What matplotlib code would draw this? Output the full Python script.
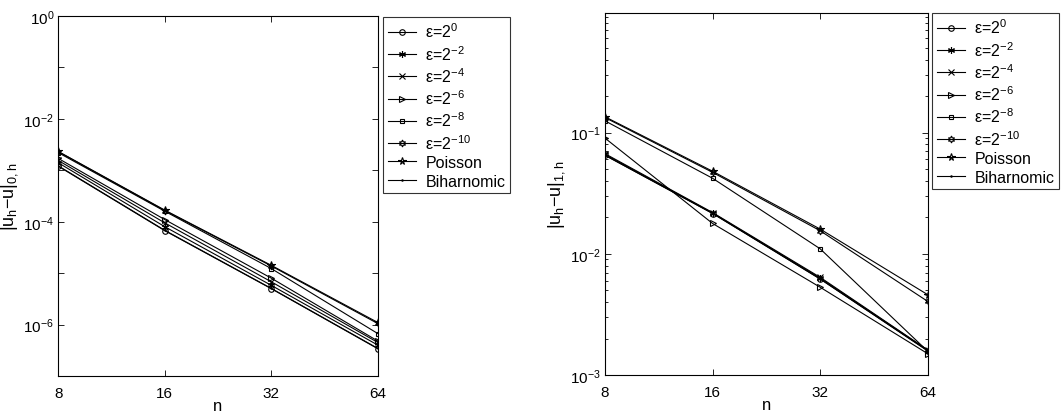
import matplotlib
matplotlib.use("Agg")
import matplotlib.pyplot as plt
from matplotlib.ticker import FixedLocator, NullLocator, LogLocator, NullFormatter, FixedFormatter

plt.rcParams['font.family'] = ['Liberation Sans', 'DejaVu Sans']
plt.rcParams['mathtext.fontset'] = 'custom'
plt.rcParams['mathtext.rm'] = 'Liberation Sans'
plt.rcParams['mathtext.it'] = 'Liberation Sans'
plt.rcParams['mathtext.bf'] = 'Liberation Sans'

n_vals = [8, 16, 32, 64]
labels = ['ε=2$^{0}$', 'ε=2$^{-2}$', 'ε=2$^{-4}$', 'ε=2$^{-6}$',
          'ε=2$^{-8}$', 'ε=2$^{-10}$', 'Poisson', 'Biharnomic']

# Left panel: |u_h - u|_{0,h}
err0_eps0 = [1.20e-3, 6.7e-5, 5.0e-6, 3.4e-7]
err0_eps2 = [1.40e-3, 8.0e-5, 5.8e-6, 4.0e-7]
err0_eps4 = [1.55e-3, 9.5e-5, 6.8e-6, 4.5e-7]
err0_eps6 = [1.70e-3, 1.10e-4, 8.0e-6, 4.8e-7]
err0_eps8 = [2.20e-3, 1.60e-4, 1.23e-5, 6.7e-7]
err0_eps10 = [2.30e-3, 1.65e-4, 1.38e-5, 1.05e-6]
err0_poisson = [2.32e-3, 1.68e-4, 1.42e-5, 1.10e-6]
err0_biharm = [1.22e-3, 6.8e-5, 5.05e-6, 3.45e-7]

# Right panel: |u_h - u|_{1,h}
err1_eps0 = [0.065, 0.0215, 0.0062, 0.00158]
err1_eps2 = [0.066, 0.0217, 0.0063, 0.00160]
err1_eps4 = [0.067, 0.0219, 0.0064, 0.00161]
err1_eps6 = [0.090, 0.0178, 0.0053, 0.00150]
err1_eps8 = [0.125, 0.0420, 0.0110, 0.00157]
err1_eps10 = [0.133, 0.0470, 0.0155, 0.00405]
err1_poisson = [0.135, 0.0480, 0.0160, 0.00460]
err1_biharm = [0.065, 0.0216, 0.0062, 0.00159]

markers = ['o', (6, 2, 0), 'x', '>', 's', (6, 1, 0), '*', '.']
msizes = [4, 5, 4, 4, 3.5, 5, 5.5, 2]

fig = plt.figure(figsize=(10.61, 4.14), dpi=100)
axL = fig.add_axes([58.3/1061, 1-377/414, (377.7-58.3)/1061, (377-17)/414])
axR = fig.add_axes([605/1061, 1-376/414, (927.7-605)/1061, (376-14)/414])

def draw(ax, series):
    handles = []
    for s, m, ms, lab in zip(series, markers, msizes, labels):
        h, = ax.plot(n_vals, s, color='black', lw=0.8, marker=m, ms=ms,
                     mfc='none', mec='black', mew=0.8, label=lab)
        handles.append(h)
    ax.set_xscale('log', base=2)
    ax.set_yscale('log')
    ax.set_xlim(8, 64)
    ax.xaxis.set_major_locator(FixedLocator(n_vals))
    ax.xaxis.set_major_formatter(FixedFormatter([str(v) for v in n_vals]))
    ax.xaxis.set_minor_locator(NullLocator())
    ax.tick_params(which='both', direction='in', top=True, right=True,
                   labelsize=11, width=0.6)
    ax.tick_params(axis='x', pad=7)
    ax.tick_params(axis='y', pad=3)
    ax.tick_params(which='major', length=4)
    ax.tick_params(which='minor', length=2)
    for sp in ax.spines.values():
        sp.set_linewidth(0.8)
    ax.set_xlabel('n', fontsize=12)
    bbox = ax.get_position()
    h_px = bbox.height * 414
    ax.xaxis.set_label_coords(0.5, -(22 / h_px))
    ax.xaxis.label.set_va('top')
    return handles

hL = draw(axL, [err0_eps0, err0_eps2, err0_eps4, err0_eps6, err0_eps8,
                err0_eps10, err0_poisson, err0_biharm])
axL.set_ylim(1e-7, 1e0)
axL.yaxis.set_major_locator(FixedLocator([1e-7, 1e-6, 1e-5, 1e-4, 1e-3, 1e-2, 1e-1, 1e0]))
axL.yaxis.set_major_formatter(FixedFormatter(['', '10$^{-6}$', '', '10$^{-4}$', '',
                                              '10$^{-2}$', '', '10$^{0}$']))
axL.yaxis.set_minor_locator(NullLocator())
axL.set_ylabel('|u$_{\\mathrm{h}}$−u|$_{\\mathrm{0,h}}$', fontsize=13)
axL.yaxis.set_label_coords(-38.0 / 319.4, 0.5)

hR = draw(axR, [err1_eps0, err1_eps2, err1_eps4, err1_eps6, err1_eps8,
                err1_eps10, err1_poisson, err1_biharm])
axR.set_ylim(1e-3, 0.97)
axR.yaxis.set_major_locator(FixedLocator([1e-3, 1e-2, 1e-1]))
axR.yaxis.set_major_formatter(FixedFormatter(['10$^{-3}$', '10$^{-2}$', '10$^{-1}$']))
axR.yaxis.set_minor_locator(LogLocator(base=10, subs=range(2, 10)))
axR.yaxis.set_minor_formatter(NullFormatter())
axR.set_ylabel('|u$_{\\mathrm{h}}$−u|$_{\\mathrm{1,h}}$', fontsize=13)
axR.yaxis.set_label_coords(-38.0 / 322.7, 0.5)

for hs, pos in [(hL, (383/1061, 1-18/414)), (hR, (932/1061, 1-14/414))]:
    leg = fig.legend(handles=hs, loc='upper left', bbox_to_anchor=pos,
                     bbox_transform=fig.transFigure, fontsize=11.5,
                     frameon=True, fancybox=False, handlelength=1.75,
                     labelspacing=0.22, borderpad=0.3, handletextpad=0.6,
                     borderaxespad=0)
    leg.get_frame().set_edgecolor('black')
    leg.get_frame().set_linewidth(0.8)

fig.savefig('out.png', dpi=100)
